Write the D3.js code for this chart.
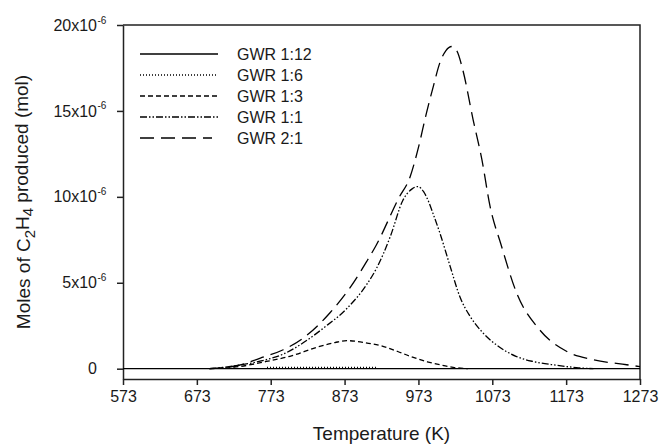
<!DOCTYPE html>
<head>
<meta charset="utf-8">
<style>
body { margin: 0; background: #fff; }
svg { font-family: "Liberation Sans", Arial, sans-serif; }
.curve { fill: none; stroke: #000; stroke-width: 1.3px; }
.axis path, .axis line { stroke: #222; stroke-width: 1.5px; }
.axis text { fill: #1a1a1a; font-size: 16px; }
</style>
<script src="https://cdn.jsdelivr.net/npm/d3@7"></script>
</head>
<body>
<svg class="chart" width="659" height="444"></svg>
<script>

// Values in units of 1e-6 mol.
var seriesNames = ["GWR 1:12", "GWR 1:6", "GWR 1:3", "GWR 1:1", "GWR 2:1"];
var dashStyles = ["none", "1,2", "5,3", "7,2,1.5,2,1.5,2", "14,7"];

var gwr1to12 = [[573, 0], [1273, 0]];
var gwr1to6 = [[768, 0.07], [800, 0.08], [850, 0.08], [918, 0.07]];
var gwr1to3 = [[690, 0], [730, 0.12], [767, 0.42], [799, 0.72], [835, 1.24], [860, 1.52], [876, 1.63],
  [900, 1.52], [925, 1.3], [945, 1.0], [962, 0.72], [985, 0.4], [1002, 0.23], [1020, 0.08], [1040, 0]];
var gwr1to1 = [[690, 0], [730, 0.2], [760, 0.45], [790, 0.85], [822, 1.65], [844, 2.35], [876, 3.5],
  [903, 4.9], [917, 5.9], [935, 7.7], [952, 9.8], [964, 10.45], [972, 10.6], [980, 10.3], [986, 9.8],
  [993, 9.0], [1002, 7.9], [1016, 5.95], [1029, 4.2], [1043, 3.04], [1060, 2.1], [1083, 1.25],
  [1105, 0.72], [1128, 0.42], [1160, 0.2], [1190, 0.05], [1210, 0]];
var gwr2to1 = [[690, 0], [730, 0.2], [759, 0.62], [790, 1.1], [817, 1.78], [853, 3.24], [880, 4.69],
  [903, 6.24], [916, 7.2], [946, 9.9], [962, 11.2], [972, 12.7], [984, 14.9], [993, 16.4],
  [1002, 17.8], [1010, 18.5], [1018, 18.75], [1025, 18.5], [1033, 17.4], [1047, 14.5], [1059, 12.15],
  [1070, 9.44], [1085, 7.2], [1106, 4.4], [1137, 2.27], [1174, 1.0], [1210, 0.52], [1255, 0.23], [1273, 0.12]];

var xTicks = [573, 673, 773, 873, 973, 1073, 1173, 1273];
var yTicks = [0, 5, 10, 15, 20];

var svg = d3.select(".chart"),
  margin = {top: 25, right: 19, bottom: 65, left: 123},
  width = svg.attr("width") - margin.left - margin.right,
  height = svg.attr("height") - margin.top - margin.bottom,
  g = svg.append("g").attr("transform", "translate(" + margin.left + "," + margin.top + ")");

var x = d3.scaleLinear().domain([573, 1273]).range([0, width]);
var y = d3.scaleLinear().domain([-0.6, 20]).range([height, 0]);

// Frame: top and right sides.
g.append("path")
  .attr("d", "M0,0H" + width + "V" + height)
  .attr("fill", "none")
  .attr("stroke", "#222")
  .attr("stroke-width", 1.5);

// X axis.
g.append("g")
  .attr("class", "axis")
  .attr("transform", "translate(0," + height + ")")
  .call(d3.axisBottom(x).tickValues(xTicks).tickSize(6).tickSizeOuter(0).tickPadding(6)
    .tickFormat(d3.format("d")));

// Y axis, labels like 5x10^-6.
var yAxis = g.append("g")
  .attr("class", "axis")
  .call(d3.axisLeft(y).tickValues(yTicks).tickSize(6).tickSizeOuter(0).tickPadding(20)
    .tickFormat(function(d) { return d === 0 ? "0" : d + "x10"; }));
yAxis.selectAll(".tick").filter(function(d) { return d !== 0; })
  .append("text")
  .attr("x", -25.5)
  .attr("dy", "-0.2em")
  .attr("text-anchor", "start")
  .style("font-size", "10px")
  .text("-6");

// Axis titles.
svg.append("text")
  .attr("x", margin.left + width / 2)
  .attr("y", 440)
  .attr("text-anchor", "middle")
  .attr("fill", "#1a1a1a")
  .style("font-size", "19px")
  .text("Temperature (K)");

var yTitle = svg.append("text")
  .attr("transform", "translate(30," + 202 + ") rotate(-90)")
  .attr("text-anchor", "middle")
  .attr("fill", "#1a1a1a")
  .style("font-size", "19px");
yTitle.append("tspan").text("Moles of C");
yTitle.append("tspan").attr("dy", "0.3em").style("font-size", "15px").text("2");
yTitle.append("tspan").attr("dy", "-0.3em").text("H");
yTitle.append("tspan").attr("dy", "0.3em").style("font-size", "15px").text("4");
yTitle.append("tspan").attr("dy", "-0.3em").text(" produced (mol)");

// Curves.
var line = d3.line()
  .curve(d3.curveMonotoneX)
  .x(function(d) { return x(d[0]); })
  .y(function(d) { return y(d[1]); });

var allSeries = [gwr1to12, gwr1to6, gwr1to3, gwr1to1, gwr2to1];
allSeries.forEach(function(data, i) {
  g.append("path")
    .datum(data)
    .attr("class", "curve")
    .attr("stroke-dasharray", dashStyles[i])
    .attr("d", line);
});

// Legend.
var legend = g.append("g").attr("transform", "translate(17,29)");
seriesNames.forEach(function(name, i) {
  var row = legend.append("g").attr("transform", "translate(0," + (i * 21) + ")");
  row.append("line")
    .attr("class", "curve")
    .attr("x1", 0).attr("x2", i === 4 ? 72 : 78)
    .attr("stroke-dasharray", dashStyles[i]);
  row.append("text")
    .attr("x", 97)
    .attr("dy", "0.35em")
    .attr("fill", "#1a1a1a")
    .style("font-size", "16px")
    .text(name);
});

</script>
</body>
